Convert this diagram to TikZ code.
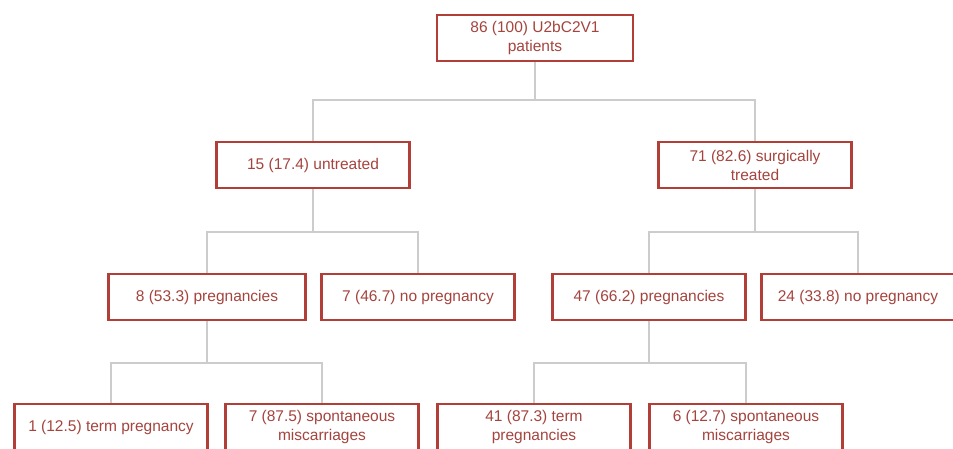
\documentclass[tikz,border=0pt]{standalone}
\usepackage{fontspec}
\setmainfont{Liberation Sans}
\usepackage{xcolor}
\usetikzlibrary{positioning,calc}
\definecolor{boxred}{RGB}{178,62,56}
\definecolor{txtred}{RGB}{165,68,62}
\definecolor{linkgray}{RGB}{204,204,204}

\tikzset{
  box/.style={draw=boxred, line width=2.2pt, text=txtred, fill=white, align=center,
    minimum width=193, minimum height=46, inner sep=1pt,
    font=\fontsize{15.5}{19}\selectfont},
  link/.style={draw=linkgray, line width=2pt}
}

\begin{document}
\begin{tikzpicture}[x=1pt,y=-1pt]
    \useasboundingbox[fill=white] (0,0) rectangle (953,449);

    % tree, top to bottom
    \node (root) [box, minimum width=196] at (535,38) {86 (100) U2bC2V1\\patients};
    \node (untr) [box] at (313,165) {15 (17.4) untreated};
    \node (surg) [box] at (755,165) {71 (82.6) surgically\\treated};
    \node (upreg) [box, minimum width=197] at (207,297) {8 (53.3) pregnancies};
    \node (unopreg) [box] at (418,297) {7 (46.7) no pregnancy};
    \node (spreg) [box] at (649,297) {47 (66.2) pregnancies};
    \node (snopreg) [box] at (858,297) {24 (33.8) no pregnancy};
    \node (uterm) [box] at (111,427) {1 (12.5) term pregnancy};
    \node (umisc) [box] at (322,427) {7 (87.5) spontaneous\\miscarriages};
    \node (sterm) [box] at (534,427) {41 (87.3) term\\pregnancies};
    \node (smisc) [box] at (746,427) {6 (12.7) spontaneous\\miscarriages};

    % bus junctions
    \coordinate (j1) at (535,100);
    \coordinate (j2) at (313,232);
    \coordinate (j3) at (755,232);
    \coordinate (j4) at (207,363);
    \coordinate (j5) at (649,363);

    \draw [link] (root) -- (j1);
    \draw [link] (j1) -| (untr);
    \draw [link] (j1) -| (surg);
    \draw [link] (untr) -- (j2);
    \draw [link] (j2) -| (upreg);
    \draw [link] (j2) -| (unopreg);
    \draw [link] (surg) -- (j3);
    \draw [link] (j3) -| (spreg);
    \draw [link] (j3) -| (snopreg);
    \draw [link] (upreg) -- (j4);
    \draw [link] (j4) -| (uterm);
    \draw [link] (j4) -| (umisc);
    \draw [link] (spreg) -- (j5);
    \draw [link] (j5) -| (sterm);
    \draw [link] (j5) -| (smisc);
\end{tikzpicture}
\end{document}
